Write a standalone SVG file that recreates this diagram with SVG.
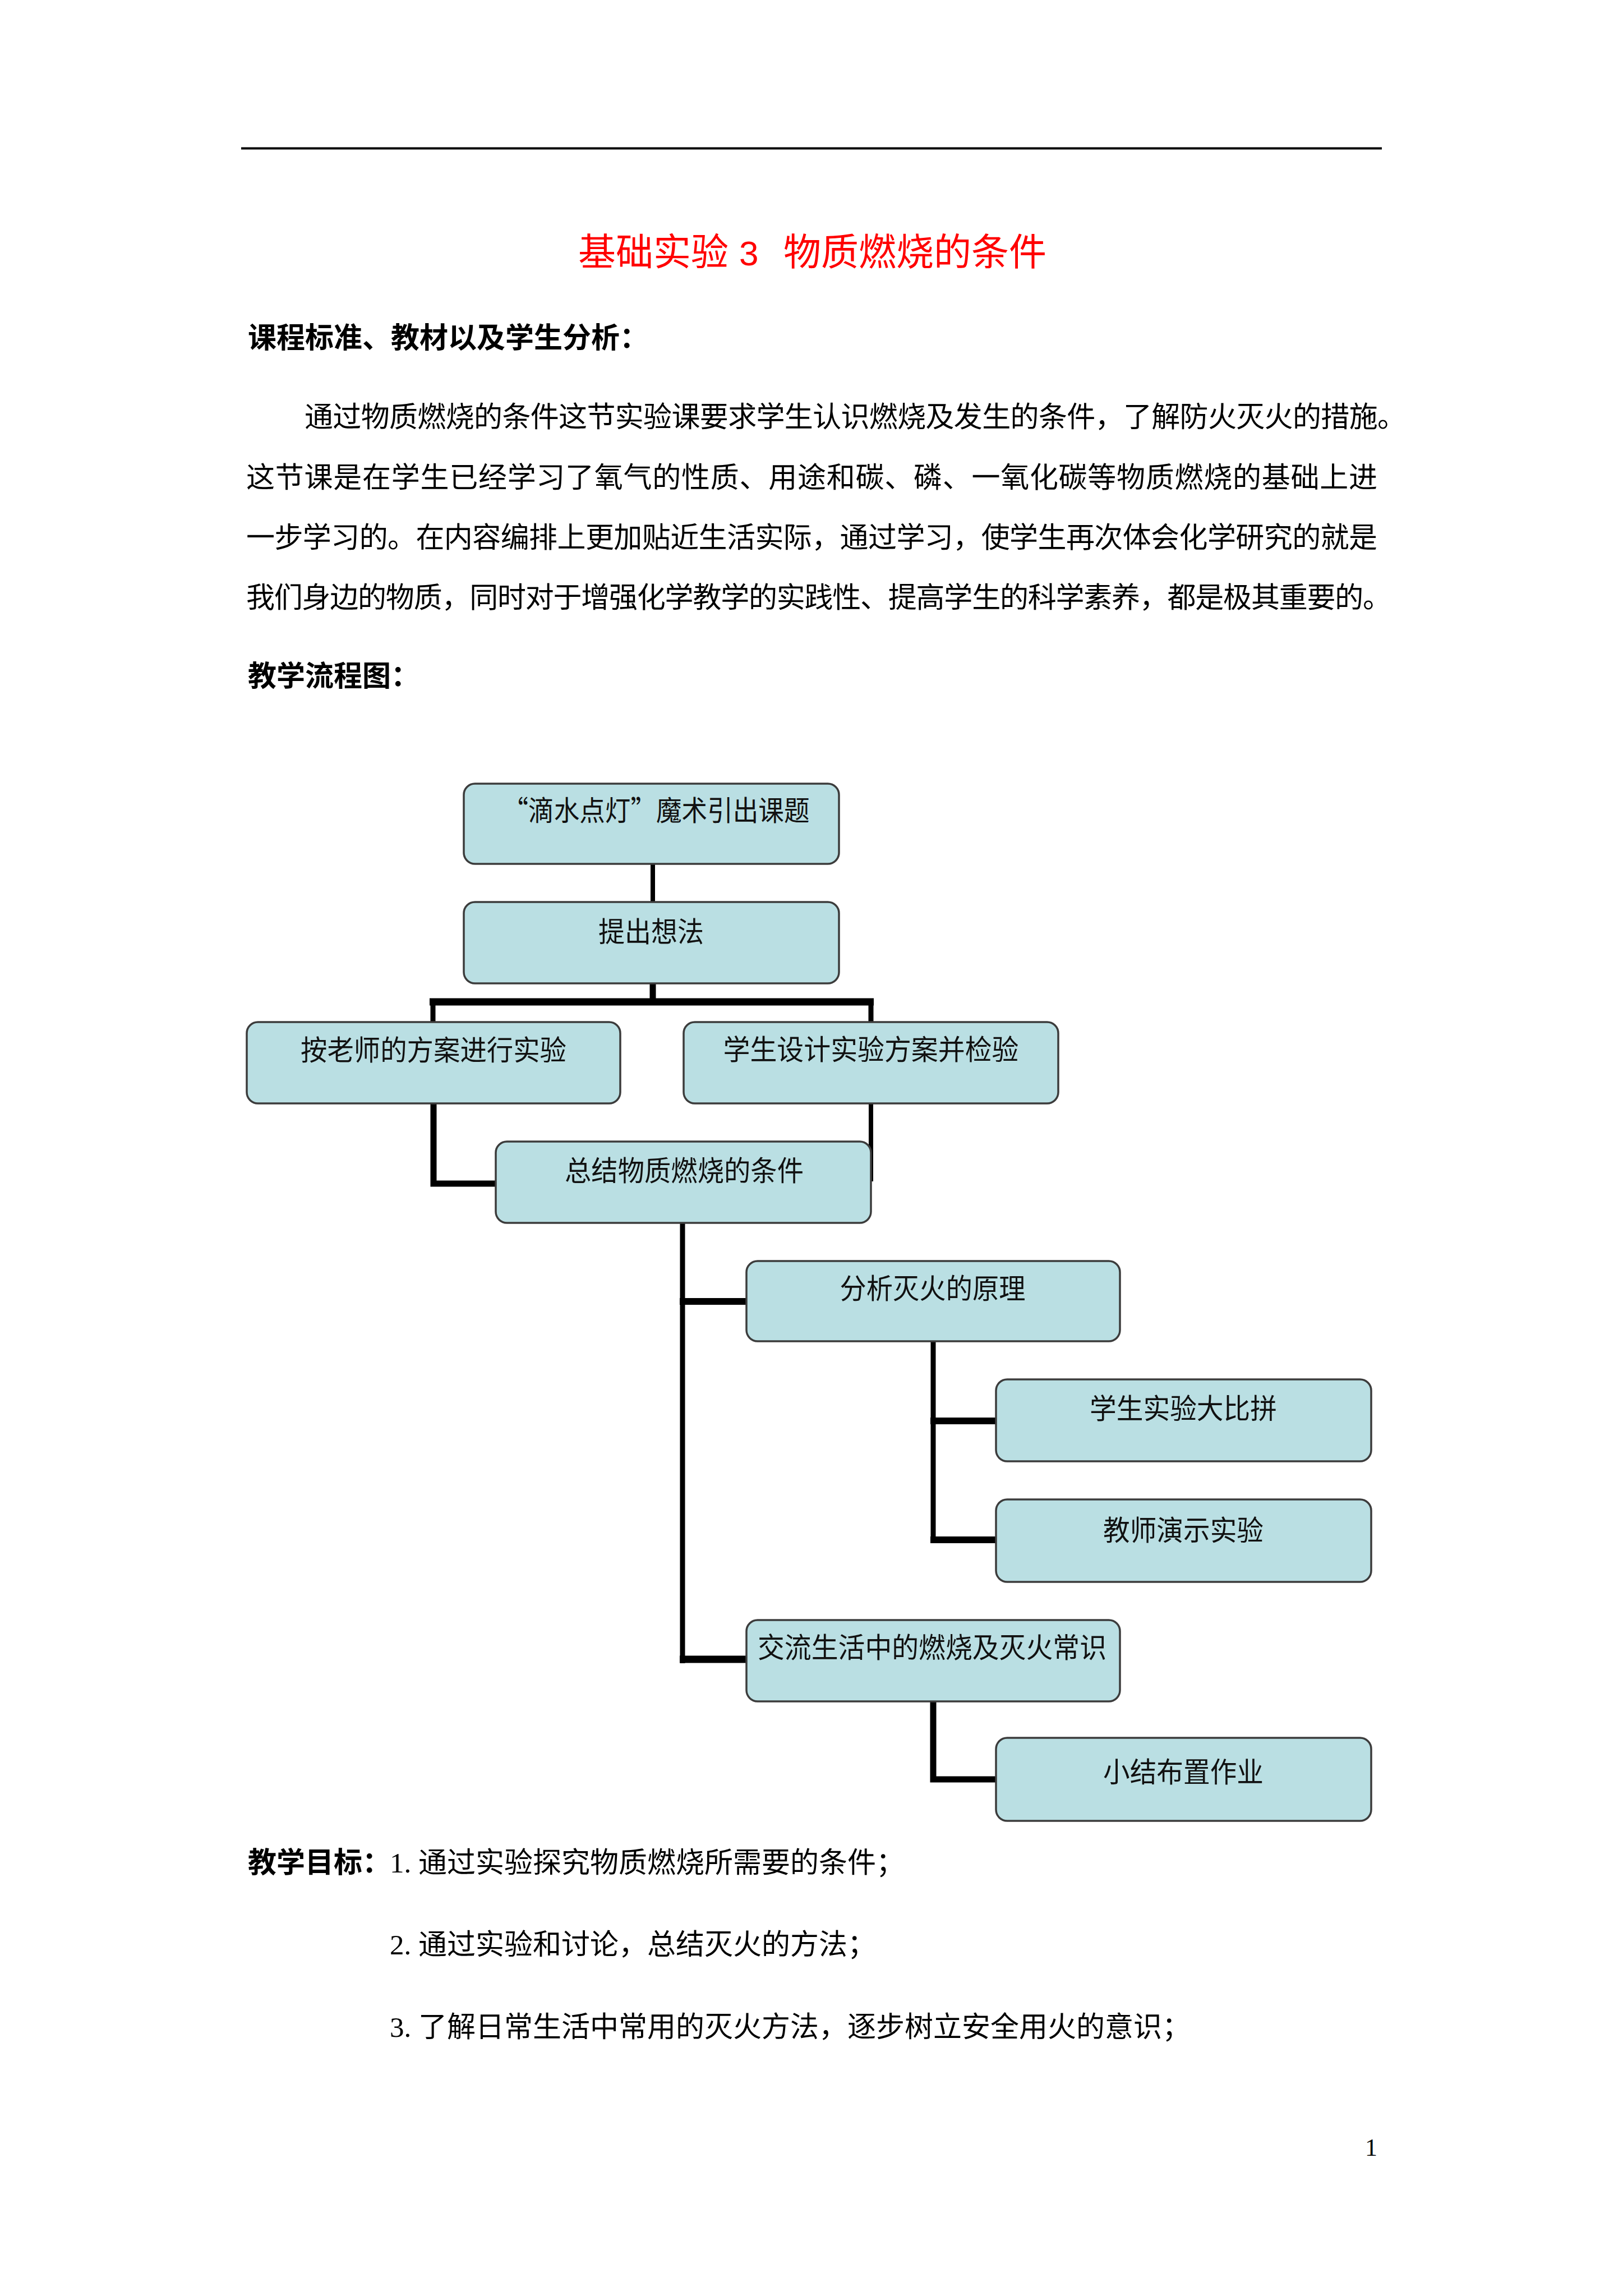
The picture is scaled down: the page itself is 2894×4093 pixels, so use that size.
<svg xmlns="http://www.w3.org/2000/svg" width="2894" height="4093" viewBox="0 0 2894 4093">
<style>
.body{font-family:"Noto Sans CJK SC","Liberation Serif",sans-serif;font-size:51px;fill:#000}
.bold{font-weight:700}
.num{font-family:"Liberation Serif",serif}
.box{fill:#BADFE3;stroke:#3c3c3c;stroke-width:3.5}
.bt{font-family:"Noto Sans CJK SC",sans-serif;font-size:50px;fill:#111;text-anchor:middle}
.c{stroke:#000;fill:none;stroke-linecap:butt}
</style>
<rect x="0" y="0" width="2894" height="4093" fill="#fff"/>
<line x1="430" y1="264.5" x2="2464" y2="264.5" stroke="#000" stroke-width="4"/>
<text font-family="Noto Sans CJK SC,sans-serif" font-size="67" fill="#FF0000" y="473"><tspan x="1031">基础实验</tspan><tspan x="1318" font-family="'Liberation Sans',sans-serif" font-size="62">3</tspan><tspan x="1397">物质燃烧的条件</tspan></text>
<text class="body bold" x="442" y="620">课程标准、教材以及学生分析：</text>
<text class="body" x="543" y="761" textLength="1964" lengthAdjust="spacing">通过物质燃烧的条件这节实验课要求学生认识燃烧及发生的条件，了解防火灭火的措施。</text>
<text class="body" x="439" y="869" textLength="2017" lengthAdjust="spacing">这节课是在学生已经学习了氧气的性质、用途和碳、磷、一氧化碳等物质燃烧的基础上进</text>
<text class="body" x="439" y="976" textLength="2017" lengthAdjust="spacing">一步学习的。在内容编排上更加贴近生活实际，通过学习，使学生再次体会化学研究的就是</text>
<text class="body" x="439" y="1083" textLength="2042" lengthAdjust="spacing">我们身边的物质，同时对于增强化学教学的实践性、提高学生的科学素养，都是极其重要的。</text>
<text class="body bold" x="442" y="1223">教学流程图：</text>
<g id="connectors">
<line class="c" x1="1164" y1="1540" x2="1164" y2="1608" stroke-width="8"/>
<line class="c" x1="1164" y1="1753" x2="1164" y2="1786" stroke-width="11"/>
<line class="c" x1="766" y1="1786" x2="1558" y2="1786" stroke-width="13"/>
<line class="c" x1="772" y1="1786" x2="772" y2="1822" stroke-width="9"/>
<line class="c" x1="1553" y1="1786" x2="1553" y2="1822" stroke-width="9"/>
<polyline class="c" points="773,1967 773,2110 884,2110" stroke-width="11"/>
<line class="c" x1="1553" y1="1967" x2="1553" y2="2106" stroke-width="8"/>
<line class="c" x1="1217" y1="2180" x2="1217" y2="2965" stroke-width="9"/>
<line class="c" x1="1212" y1="2320" x2="1331" y2="2320" stroke-width="12"/>
<line class="c" x1="1212" y1="2958" x2="1331" y2="2958" stroke-width="13"/>
<line class="c" x1="1664" y1="2391" x2="1664" y2="2751" stroke-width="9"/>
<line class="c" x1="1659" y1="2533" x2="1776" y2="2533" stroke-width="12"/>
<line class="c" x1="1659" y1="2745" x2="1776" y2="2745" stroke-width="12"/>
<polyline class="c" points="1664,3033 1664,3172 1776,3172" stroke-width="11"/>
</g>
<g id="n1"><rect class="box" x="827" y="1397" width="669" height="143" rx="20"/><text class="bt" x="1170" y="1463" textLength="547" lengthAdjust="spacingAndGlyphs">“滴水点灯”魔术引出课题</text></g>
<g id="n2"><rect class="box" x="827" y="1608" width="669" height="145" rx="20"/><text class="bt" x="1161" y="1679" textLength="188" lengthAdjust="spacingAndGlyphs">提出想法</text></g>
<g id="n3"><rect class="box" x="440" y="1822" width="666" height="145" rx="20"/><text class="bt" x="773" y="1890" textLength="474" lengthAdjust="spacingAndGlyphs">按老师的方案进行实验</text></g>
<g id="n4"><rect class="box" x="1219" y="1822" width="668" height="145" rx="20"/><text class="bt" x="1553" y="1889" textLength="527" lengthAdjust="spacingAndGlyphs">学生设计实验方案并检验</text></g>
<g id="n5"><rect class="box" x="884" y="2035" width="669" height="145" rx="20"/><text class="bt" x="1220" y="2105" textLength="426" lengthAdjust="spacingAndGlyphs">总结物质燃烧的条件</text></g>
<g id="n6"><rect class="box" x="1331" y="2248" width="666" height="143" rx="20"/><text class="bt" x="1663" y="2315" textLength="331" lengthAdjust="spacingAndGlyphs">分析灭火的原理</text></g>
<g id="n7"><rect class="box" x="1776" y="2459" width="669" height="146" rx="20"/><text class="bt" x="2110" y="2529" textLength="334" lengthAdjust="spacingAndGlyphs">学生实验大比拼</text></g>
<g id="n8"><rect class="box" x="1776" y="2673" width="669" height="147" rx="20"/><text class="bt" x="2110" y="2746" textLength="286" lengthAdjust="spacingAndGlyphs">教师演示实验</text></g>
<g id="n9"><rect class="box" x="1331" y="2888" width="666" height="145" rx="20"/><text class="bt" x="1662" y="2955" textLength="622" lengthAdjust="spacingAndGlyphs">交流生活中的燃烧及灭火常识</text></g>
<g id="n10"><rect class="box" x="1776" y="3098" width="669" height="148" rx="20"/><text class="bt" x="2110" y="3177" textLength="286" lengthAdjust="spacingAndGlyphs">小结布置作业</text></g>
<text class="body bold" x="442" y="3338">教学目标：</text>
<text class="body" y="3338"><tspan class="num" x="695">1.</tspan><tspan x="746" textLength="867" lengthAdjust="spacing">通过实验探究物质燃烧所需要的条件；</tspan></text>
<text class="body" y="3484"><tspan class="num" x="695">2.</tspan><tspan x="746">通过实验和讨论，总结灭火的方法；</tspan></text>
<text class="body" y="3631"><tspan class="num" x="695">3.</tspan><tspan x="746">了解日常生活中常用的灭火方法，逐步树立安全用火的意识；</tspan></text>
<text font-family="Liberation Serif,serif" font-size="44" x="2445" y="3843" text-anchor="middle">1</text>
</svg>
